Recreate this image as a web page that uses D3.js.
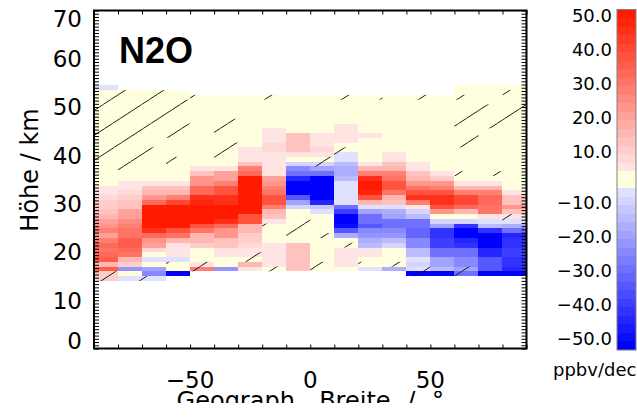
<!DOCTYPE html>
<html>
<head>
<meta charset="utf-8">
<script src="https://cdn.jsdelivr.net/npm/d3@7/dist/d3.min.js"></script>
<style>
  html, body { margin: 0; padding: 0; background: #ffffff; }
  svg { display: block; }
  text { font-family: "DejaVu Sans", sans-serif; fill: #000000; }
  text.panel-title { font-family: "Liberation Sans", Arial, sans-serif; font-weight: bold; }
</style>
</head>
<body>
<svg id="chart" width="637" height="417"></svg>
<script>
// Latitude bins (centres of 10° bands)
const latitudes = [-85, -75, -65, -55, -45, -35, -25, -15, -5, 5, 15, 25, 35, 45, 55, 65, 75, 85];

// Altitude layers (km, lower edge), listed top to bottom
const altitudes = [54, 53, 52, 51, 50, 49, 48, 47, 46, 45, 44, 43, 42, 41, 40, 39, 38, 37, 36, 35,
                   34, 33, 32, 31, 30, 29, 28, 27, 26, 25, 24, 23, 22, 21, 20, 19, 18, 17, 16, 15, 14];

// N2O trend in ppbv/decade: one row per latitude bin, one value per altitude layer (top to bottom)
const trend = [
  /* -85 */ [-6, 0,0,0,0,0,0,0,0,0,0, 0,0,0,0,0,0,0,0,0,0, 6,6,9,11,12,14,16,20,24,28, 21,28,33,30,34,37,17,37,12,12],
  /* -75 */ [null, 0,0,0,0,0,0,0,0,0,0, 0,0,0,0,0,0,0,0,0, 6,6,8,10,13,14,20,22,27,28,31, 32,36,37,33,30,17,10,-22,0,-6],
  /* -65 */ [null, 0,0,0,0,0,0,0,0,0,0, 0,0,0,0,0,0,0,0,0, 6,13,15,24,34,52,52,52,52,50,45, 34,24,20,9,0,-6,0,-20,-24,-6],
  /* -55 */ [null, 0,0,0,0,0,0,0,0,0,0, 0,0,0,0,0,0,0,0,0, 6,13,15,28,40,52,52,52,52,50,38, 31,17,7,6,6,-6,0,0,-52,null],
  /* -45 */ [null,null, 0,0,0,0,0,0,0,0,0,0,0,0,0,0,0, 6,13,24,24,34,34,45,48,52,52,52,50,38,31,17,17,11,0,0,0,6,28, null,null],
  /* -35 */ [null,null, 0,0,0,0,0,0,0,0,0,0,0,0,0,0,0, 6,21,21,28,38,38,45,45,52,52,52,45,34,24,24,13,13,6,6,0,0,-22, null,null],
  /* -25 */ [null,null, 0,0,0,0,0,0,0,0,0,0,0, 6,6,6,13,28,34, 52,52,52,52,52,52,52,52, 38,38,17,17,10,10,8,6,6,0,17,6, null,null],
  /* -15 */ [null,null, 0,0,0,0,0,0,0, 6,6,6,9,9,6,6,6,6,6, 20,24,28,30,38,38,28,17,13,6, 0,0,0,0,6,6,6,6,6,0, null,null],
  /*  -5 */ [null,null, 0,0,0,0,0,0,0,0, 13,13,13,13,6,0,-10,-24,-28,-45,-52,-52,-52,-34,-20,-8, 0,0,0,0,0,0,0, 13,13,13,13,13,13, null,null],
  /*   5 */ [null,null, 0,0,0,0,0,0,0,0, 6,6,6,9,6,0,-8,-20,-28,-52,-52,-52,-52,-52,-45,-12,-6, 0,0,0,0,0,0,0,0,0,0,0,0, null,null],
  /*  15 */ [null,null, 0,0,0,0,0,0, 6,6,6,6,0,0,-6,-6,-13,-17,-17,-13,-6,-6,-6,-6,-6,-30,-40,-52,-52,-48,-34,-17,0,0,6,6,6,6,0, null,null],
  /*  25 */ [null,null, 0,0,0,0,0,0,0,0, 6,0,0,0,0,0, 6,17,28,45,52,52,48,38,17,-6,-20,-30,-30,-34,-24,-22,-17,-13,6,6,0,0,-6, null,null],
  /*  35 */ [null,null, 0,0,0,0,0,0,0,0,0,0,0,0, 6,6,13,17,28,31,38,38,31,17,13,-6,-17,-20,-28,-28,-24,-22,-13,-10,0,0,0,0,-17, null,null],
  /*  45 */ [null,null, 0,0,0,0,0,0,0,0,0,0,0,0,0,0, 6,6,13,17,24,31,38,45,28,6,-10,-13,-28,-28,-31,-31,-24,-24,-13,-13,-6,-8,-6,-52, null],
  /*  55 */ [null,null, 0,0,0,0,0,0,0,0,0,0,0,0,0,0,0,0, 6,10,24,28,38,45,45,38,24,0,-8,-20,-42,-42,-38,-38,-28,-28,-20,-20,-13,-52, null],
  /*  65 */ [0,0,0,0,0,0,0,0,0,0, 0,0,0,0,0,0,0,0,0,0, 6,17,28,42,40,34,17,0,-10,-42,-52,-52,-45,-42,-28,-28,-24,-24,-20,-28, null],
  /*  75 */ [0,0,0,0,0,0,0,0,0,0, 0,0,0,0,0,0,0,0,0,0, 6,17,28,34,34,31,31,6,-6,-13,-42,-52,-52,-52,-45,-45,-34,-34,-34,-52, null],
  /*  85 */ [0,0,0,0,0,0,0,0,0,0, 0,0,0,0,0,0,0,0,0,0, 0,0, 6,13,13,24,13,6,-6,-17,-28,-45,-42,-42,-38,-38,-42,-42,-45,-52, null]
];

// Cells where the trend is not significant (hatched): [latitude, lowest layer km, highest layer km]
const notSignificant = [
  [-85, 14, 15], [-85, 38, 53],
  [-75, 14, 15], [-75, 36, 53],
  [-65, 14, 14], [-65, 40, 41], [-65, 45, 53],
  [-55, 17, 17], [-55, 38, 39], [-55, 44, 46], [-55, 48, 51],
  [-45, 16, 17], [-45, 46, 46], [-45, 51, 52],
  [-35, 39, 42], [-35, 44, 47],
  [-25, 18, 19],
  [-15, 16, 16], [-15, 25, 25], [-15, 52, 52],
  [-5, 23, 26],
  [5, 16, 17], [5, 23, 23], [5, 38, 39],
  [15, 21, 21], [15, 40, 41], [15, 52, 52],
  [25, 17, 17], [25, 52, 52],
  [35, 17, 17],
  [45, 15, 16], [45, 52, 52],
  [65, 15, 16], [65, 36, 36], [65, 42, 44], [65, 46, 49], [65, 52, 52],
  [75, 36, 36], [75, 46, 47], [75, 49, 50],
  [85, 26, 27], [85, 47, 50], [85, 53, 53]
];

// Colour levels (ppbv/dec) and colour bar labels
const levels = [-50, -47.5, -45, -42.5, -40, -37.5, -35, -32.5, -30, -27.5, -25, -22.5, -20, -17.5, -15, -12.5, -10, -7.5, -5,
                0,
                5, 7.5, 10, 12.5, 15, 17.5, 20, 22.5, 25, 27.5, 30, 32.5, 35, 37.5, 40, 42.5, 45, 47.5, 50];
const barLabels = [50, 40, 30, 20, 10, -10, -20, -30, -40, -50];
const xTickValues = [-50, 0, 50];
const yTickValues = [0, 10, 20, 30, 40, 50, 60, 70];

// ---------------------------------------------------------------------------
const svg = d3.select("#chart");
const W = 637, H = 417;
const plot = { left: 94, right: 526.5, top: 10.5, bottom: 348.5 };

const x = d3.scaleLinear().domain([-90, 90]).range([plot.left, plot.right]);
const y = d3.scaleLinear().domain([0, 70]).range([plot.bottom, plot.top]);

const xBand = d3.scaleBand().domain(latitudes).range([x(-90), x(90)]).padding(0);
const yBand = d3.scaleBand().domain(altitudes).range([y(54.5), y(14)]).padding(0);

// Palette: 40 classes, pale to saturated on each side of a pale-yellow centre
const nSide = 19;
const redRamp = d3.interpolateRgb("#ffe4e4", "#ff1a00");
const blueRamp = d3.interpolateRgb("#e0e0ff", "#0000ff");
const binColors = d3.range(levels.length + 1).map(i => {
  if (i <= 18) return blueRamp((19 - i - 1) / (nSide - 1));
  if (i <= 20) return "#ffffe0";
  return redRamp((i - 20 - 1) / (nSide - 1));
});
const color = d3.scaleThreshold().domain(levels).range(binColors);

// Flatten the grid
const cells = [];
trend.forEach((col, i) => {
  col.forEach((v, j) => {
    if (v !== null) cells.push({ lat: latitudes[i], alt: altitudes[j], v });
  });
});

// Cells
svg.append("g")
  .attr("shape-rendering", "crispEdges")
  .selectAll("rect")
  .data(cells)
  .join("rect")
  .attr("x", d => xBand(d.lat))
  .attr("y", d => yBand(d.alt))
  .attr("width", xBand.bandwidth())
  .attr("height", yBand.bandwidth())
  .attr("fill", d => color(d.v));

// Hatching of non-significant cells
const clip = svg.append("defs").append("clipPath").attr("id", "hatch-clip");
notSignificant.forEach(([lat, lo, hi]) => {
  altitudes.filter(a => a >= lo && a <= hi).forEach(a => {
    const col = trend[latitudes.indexOf(lat)];
    if (col[altitudes.indexOf(a)] === null) return;
    clip.append("rect")
      .attr("x", xBand(lat))
      .attr("y", yBand(a))
      .attr("width", xBand.bandwidth())
      .attr("height", yBand.bandwidth());
  });
});
const hatchSlope = 0.65, hatchGap = 25;
const hatchIdx = d3.range(0, 32);
svg.append("g")
  .attr("clip-path", "url(#hatch-clip)")
  .selectAll("line")
  .data(hatchIdx)
  .join("line")
  .attr("x1", plot.left)
  .attr("y1", n => plot.top + hatchGap * n)
  .attr("x2", plot.right)
  .attr("y2", n => plot.top + hatchGap * n - hatchSlope * (plot.right - plot.left))
  .attr("stroke", "#1a1a1a")
  .attr("stroke-width", 1);

// Tick marks on all four sides
const yMinor = d3.range(0, 70 + 1e-6, 10 / 15);
const xMinor = d3.range(-90, 90 + 1e-6, 10);
function styleAxis(g) {
  g.select(".domain").remove();
  g.selectAll(".tick line").attr("stroke", "#000").attr("stroke-width", 1);
  g.selectAll(".tick text").remove();
}
svg.append("g").attr("transform", `translate(${plot.left},0)`)
  .call(d3.axisLeft(y).tickValues(yMinor).tickSize(-5).tickFormat(""))
  .call(styleAxis);
svg.append("g").attr("transform", `translate(${plot.right},0)`)
  .call(d3.axisRight(y).tickValues(yMinor).tickSize(-5).tickFormat(""))
  .call(styleAxis);
svg.append("g").attr("transform", `translate(0,${plot.bottom})`)
  .call(d3.axisBottom(x).tickValues(xMinor).tickSize(-4).tickFormat(""))
  .call(styleAxis);
svg.append("g").attr("transform", `translate(0,${plot.top})`)
  .call(d3.axisTop(x).tickValues(xMinor).tickSize(-4).tickFormat(""))
  .call(styleAxis);

// Frame
svg.append("rect")
  .attr("x", plot.left).attr("y", plot.top)
  .attr("width", plot.right - plot.left).attr("height", plot.bottom - plot.top)
  .attr("fill", "none").attr("stroke", "#000").attr("stroke-width", 2);

const fmtSigned = v => (v < 0 ? "\u2212" + Math.abs(v) : String(v));

// Y tick labels (kept inside the frame's vertical extent)
const yFont = 23, yCap = 0.729 * yFont;
svg.append("g").selectAll("text")
  .data(yTickValues)
  .join("text")
  .attr("x", 82)
  .attr("y", v => Math.max(plot.top + yCap, Math.min(plot.bottom, y(v) + yCap / 2)))
  .attr("text-anchor", "end")
  .attr("font-size", yFont)
  .text(v => v);

// X tick labels
svg.append("g").selectAll("text")
  .data(xTickValues)
  .join("text")
  .attr("x", v => x(v))
  .attr("y", 388)
  .attr("text-anchor", "middle")
  .attr("font-size", 23)
  .text(fmtSigned);

// Axis titles
svg.append("text")
  .attr("transform", "translate(38,170) rotate(-90)")
  .attr("text-anchor", "middle")
  .attr("font-size", 24)
  .text("Höhe / km");

svg.append("defs").append("clipPath").attr("id", "xtitle-clip")
  .append("rect").attr("x", 0).attr("y", 391).attr("width", W).attr("height", 12);
svg.append("text")
  .attr("clip-path", "url(#xtitle-clip)")
  .attr("x", (plot.left + plot.right) / 2)
  .attr("y", 409)
  .attr("text-anchor", "middle")
  .attr("font-size", 24)
  .attr("word-spacing", 9)
  .text("Geograph. Breite / °");

// Panel title
svg.append("text")
  .attr("class", "panel-title")
  .attr("x", 119).attr("y", 63)
  .attr("font-size", 36)
  .text("N2O");

// Colour bar
const bar = { x: 617, w: 19, top: 9.5, bottom: 350 };
const binIdx = d3.range(binColors.length);
const yBar = d3.scaleBand().domain(binIdx).range([bar.bottom, bar.top]).padding(0);
svg.append("g")
  .attr("shape-rendering", "crispEdges")
  .selectAll("rect")
  .data(binIdx)
  .join("rect")
  .attr("x", bar.x)
  .attr("y", i => yBar(i))
  .attr("width", bar.w)
  .attr("height", yBar.bandwidth())
  .attr("fill", i => binColors[i]);
svg.append("rect")
  .attr("x", bar.x).attr("y", bar.top)
  .attr("width", bar.w).attr("height", bar.bottom - bar.top)
  .attr("fill", "none").attr("stroke", "#808080").attr("stroke-width", 1);

svg.append("g").selectAll("text")
  .data(barLabels)
  .join("text")
  .attr("x", 612)
  .attr("y", v => {
    const idx = levels.indexOf(v);
    const boundary = yBar(idx + 1) + yBar.bandwidth();
    return boundary - 2.5 + 0.36 * 18;
  })
  .attr("text-anchor", "end")
  .attr("font-size", 18)
  .text(v => fmtSigned(v) + ".0");

svg.append("text")
  .attr("x", 553).attr("y", 376)
  .attr("font-size", 18)
  .text("ppbv/dec");
</script>
</body>
</html>
